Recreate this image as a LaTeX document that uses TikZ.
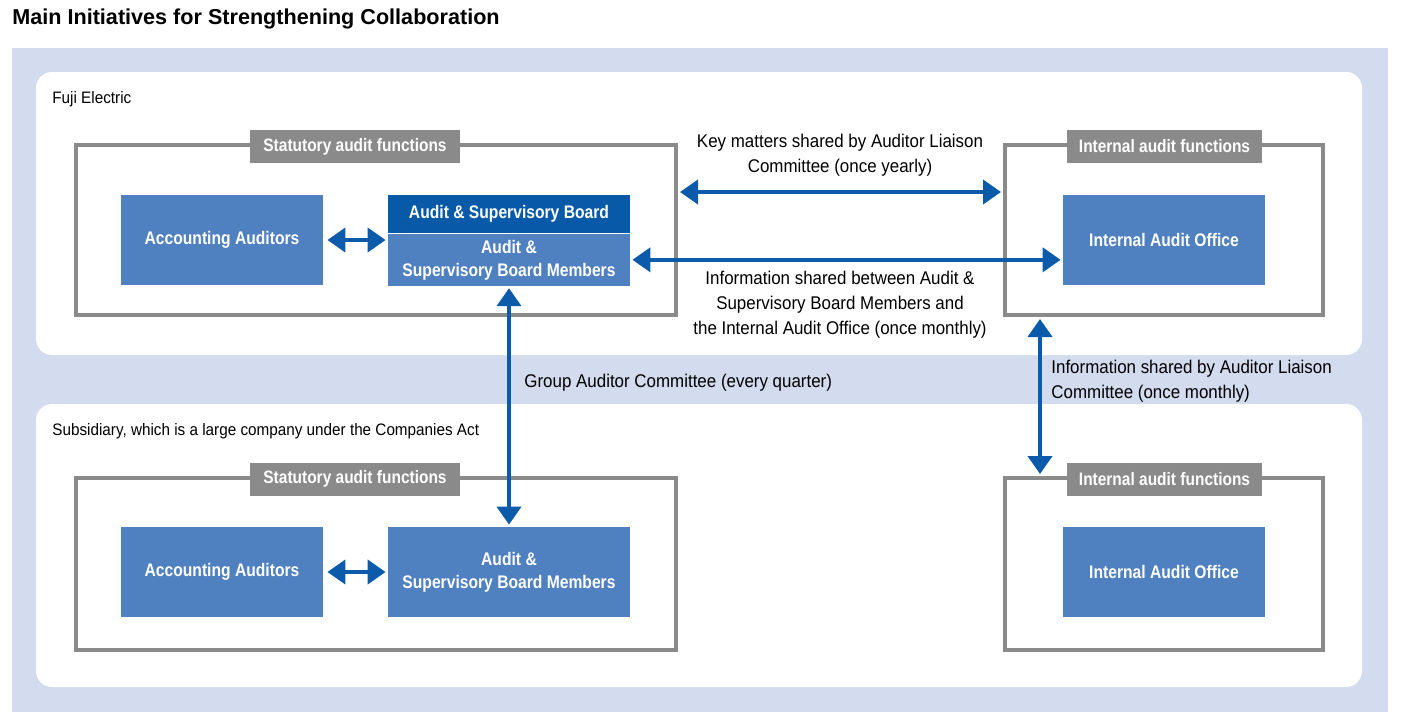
\documentclass[tikz,border=0pt]{standalone}
\usepackage{fontspec}
\setmainfont{Liberation Sans}[FakeStretch=0.92, BoldFeatures={FakeStretch=0.86}]
\newfontfamily\titlefont{Liberation Sans}
\usepackage{xcolor}
\usetikzlibrary{arrows.meta, positioning, calc}
\definecolor{bgblue}{HTML}{D3DBEE}
\definecolor{boxblue}{HTML}{4F80C0}
\definecolor{headblue}{HTML}{0859A8}
\definecolor{arrowblue}{HTML}{0B5BAA}
\definecolor{framegray}{HTML}{8A8A8A}
\tikzset{
    panelnode/.style = {fill=white, rectangle, rounded corners=8pt, inner sep=0em,
      minimum width=663pt, minimum height=141.5pt},
    framenode/.style = {draw=framegray, line width=2pt, rectangle, fill=none, inner sep=0em},
    tagnode/.style = {fill=framegray, rectangle, text=white, inner sep=0em,
      minimum height=16.5pt, font=\bfseries\fontsize{9}{11}\selectfont},
    bluenode/.style = {fill=boxblue, rectangle, text=white, inner sep=0em, align=center,
      minimum width=101pt, minimum height=45pt, font=\bfseries\fontsize{9.1}{11.5}\selectfont},
    headnode/.style = {fill=headblue, rectangle, text=white, inner sep=0em,
      minimum width=121pt, minimum height=19pt, font=\bfseries\fontsize{9.1}{11.5}\selectfont},
    textnode/.style = {draw=none, fill=none, rectangle, inner sep=0em, align=center,
      font=\fontsize{9.2}{12.5}\selectfont},
    smalltextnode/.style = {draw=none, fill=none, rectangle, inner sep=0em, anchor=west,
      font=\fontsize{8.3}{10}\selectfont},
    connect/.style = {arrowblue, line width=2pt,
      {Triangle[length=9pt,width=12pt]}-{Triangle[length=9pt,width=12pt]}}
}

\begin{document}
\begin{tikzpicture}[x=0.5pt, y=-0.5pt]
    \useasboundingbox (0,0) rectangle (1417,720);
    \fill [bgblue] (12,48) rectangle (1388,712);

    \node [name=title, anchor=west, inner sep=0em,
        font=\titlefont\bfseries\fontsize{10.8}{12}\selectfont] at (12,19)
        {Main Initiatives for Strengthening Collaboration};

    % Fuji Electric
    \node [name=panel1, panelnode] at (699,213.5) {};
    \node [name=fuji, smalltextnode] at (52,99) {Fuji Electric};

    \node [name=frametl, framenode, minimum width=300pt, minimum height=85pt] at (376,230) {};
    \node [name=frametr, framenode, minimum width=159pt, minimum height=85pt] at (1164,230) {};
    \node [name=tagtl, tagnode, minimum width=105pt] at (355,146.5) {Statutory audit functions};
    \node [name=tagtr, tagnode, minimum width=97.5pt] at (1164.5,146.5) {Internal audit functions};

    \node [name=acc1, bluenode] at (222,240) {Accounting Auditors};
    \node [name=head1, headnode] at (509,214) {Audit \& Supervisory Board};
    \node [name=members1, bluenode, below=0pt of head1, minimum width=121pt,
        minimum height=26pt] {Audit \&\\Supervisory Board Members};
    \node [name=office1, bluenode] at (1164,240) {Internal Audit Office};

    % Subsidiary
    \node [name=panel2, panelnode] at (699,545.5) {};
    \node [name=subsid, smalltextnode] at (52,431)
        {Subsidiary, which is a large company under the Companies Act};

    \node [name=framebl, framenode, minimum width=300pt, minimum height=86pt] at (376,564) {};
    \node [name=framebr, framenode, minimum width=159pt, minimum height=86pt] at (1164,564) {};
    \node [name=tagbl, tagnode, minimum width=105pt] at (355,479) {Statutory audit functions};
    \node [name=tagbr, tagnode, minimum width=97.5pt] at (1164.5,479) {Internal audit functions};

    \node [name=acc2, bluenode] at (222,572) {Accounting Auditors};
    \node [name=members2, bluenode, minimum width=121pt] at (509,572)
        {Audit \&\\Supervisory Board Members};
    \node [name=office2, bluenode] at (1164,572) {Internal Audit Office};

    % connectors
    \draw [connect] ([xshift=2pt]acc1.east) -- ([xshift=-1pt]acc1.east -| members1.west);
    \draw [connect] ([xshift=2pt]acc2.east) -- ([xshift=-1pt]members2.west);
    \draw [connect] ([shift={(1pt,19pt)}]frametl.east) -- ([shift={(-1pt,19pt)}]frametr.west);
    \draw [connect] ([xshift=1pt]members1.east) -- ([xshift=-1pt]members1.east -| office1.west);
    \draw [connect] ([yshift=-1pt]members1.south) -- ([yshift=1pt]members2.north);
    \draw [connect] ([shift={(-62pt,-1pt)}]frametr.south) -- ([shift={(-62pt,1pt)}]framebr.north);

    \node [name=keytext, textnode] at (840,155)
        {Key matters shared by Auditor Liaison\\Committee (once yearly)};
    \node [name=infotext, textnode] at (840,305)
        {Information shared between Audit \&\\Supervisory Board Members and\\the Internal Audit Office (once monthly)};
    \node [name=grouptext, textnode, anchor=west] at (524,383)
        {Group Auditor Committee (every quarter)};
    \node [name=monthtext, textnode, anchor=west, align=left] at (1051,381)
        {Information shared by Auditor Liaison\\Committee (once monthly)};
\end{tikzpicture}
\end{document}
